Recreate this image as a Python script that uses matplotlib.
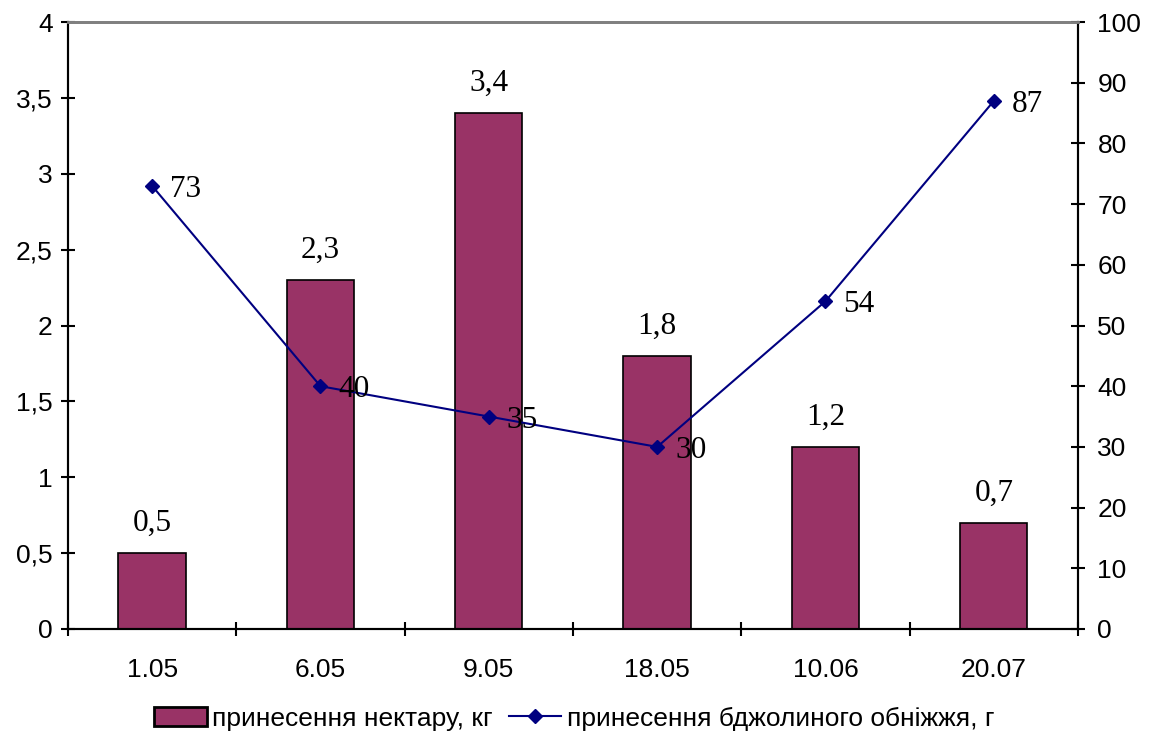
import matplotlib
matplotlib.use("Agg")
import matplotlib.pyplot as plt
import numpy as np

categories = ["1.05", "6.05", "9.05", "18.05", "10.06", "20.07"]
nectar = [0.5, 2.3, 3.4, 1.8, 1.2, 0.7]
pollen = [73, 40, 35, 30, 54, 87]
nectar_labels = ["0,5", "2,3", "3,4", "1,8", "1,2", "0,7"]
left_ticks = [0, 0.5, 1, 1.5, 2, 2.5, 3, 3.5, 4]
left_ticklabels = ["0", "0,5", "1", "1,5", "2", "2,5", "3", "3,5", "4"]
right_ticks = list(range(0, 101, 10))

sans = "Liberation Sans"
serif = "Liberation Serif"
fs = 19

fig = plt.figure(figsize=(11.6, 7.47), dpi=100)
ax = fig.add_axes([0.0586, 0.158, 0.8707, 0.8125])
ax2 = ax.twinx()

x = np.arange(len(categories))
bars = ax.bar(x, nectar, width=0.4, color="#993366", edgecolor="black", linewidth=1.2, zorder=2,
              label="принесення нектару, кг")
ax.set_xlim(-0.5, len(categories) - 0.5)
ax.set_ylim(0, 4)
ax.set_yticks(left_ticks)
ax.set_yticklabels(left_ticklabels, fontfamily=sans, fontsize=fs)
ax.set_xticks(x)
ax.set_xticklabels(categories, fontfamily=sans, fontsize=fs)
ax.tick_params(axis="x", length=0, pad=21)
ax.set_xticks(np.arange(-0.5, len(categories), 1.0), minor=True)
ax.tick_params(axis="x", which="minor", length=10, width=1.5, direction="inout")
ax.tick_params(axis="y", length=10, width=1.5, direction="inout", pad=6)

for xi, v, lab in zip(x, nectar, nectar_labels):
    ax.annotate(lab, (xi, v), xytext=(0, 16), textcoords="offset points", ha="center", va="baseline",
                fontfamily=serif, fontsize=22.5)

line, = ax2.plot(x, pollen, color="#000080", marker="D", markersize=7, linewidth=1.5, zorder=3,
                 label="принесення бджолиного обніжжя, г")
ax2.set_ylim(0, 100)
ax2.set_yticks(right_ticks)
ax2.set_yticklabels([str(t) for t in right_ticks], fontfamily=sans, fontsize=fs)
ax2.tick_params(axis="y", length=10, width=1.5, direction="inout", pad=9)
for xi, v in zip(x, pollen):
    ax2.annotate(str(v), (xi, v), xytext=(13, 0), textcoords="offset points", ha="left",
                 va="center_baseline", fontfamily=serif, fontsize=22.5)

for a in (ax, ax2):
    a.spines["top"].set_color("#808080")
    a.spines["top"].set_linewidth(2)
    a.spines["left"].set_linewidth(1.5)
    a.spines["right"].set_linewidth(1.5)
    a.spines["bottom"].set_linewidth(1.5)

leg = fig.legend(handles=[bars, line], loc="center", bbox_to_anchor=(0.495, 0.038), ncol=2, frameon=False,
                 prop={"family": sans, "size": fs}, handlelength=2.0, columnspacing=0.6,
                 handletextpad=0.2)
for h in leg.legend_handles[:1]:
    h.set_linewidth(2)

fig.savefig("out.png", dpi=100)
